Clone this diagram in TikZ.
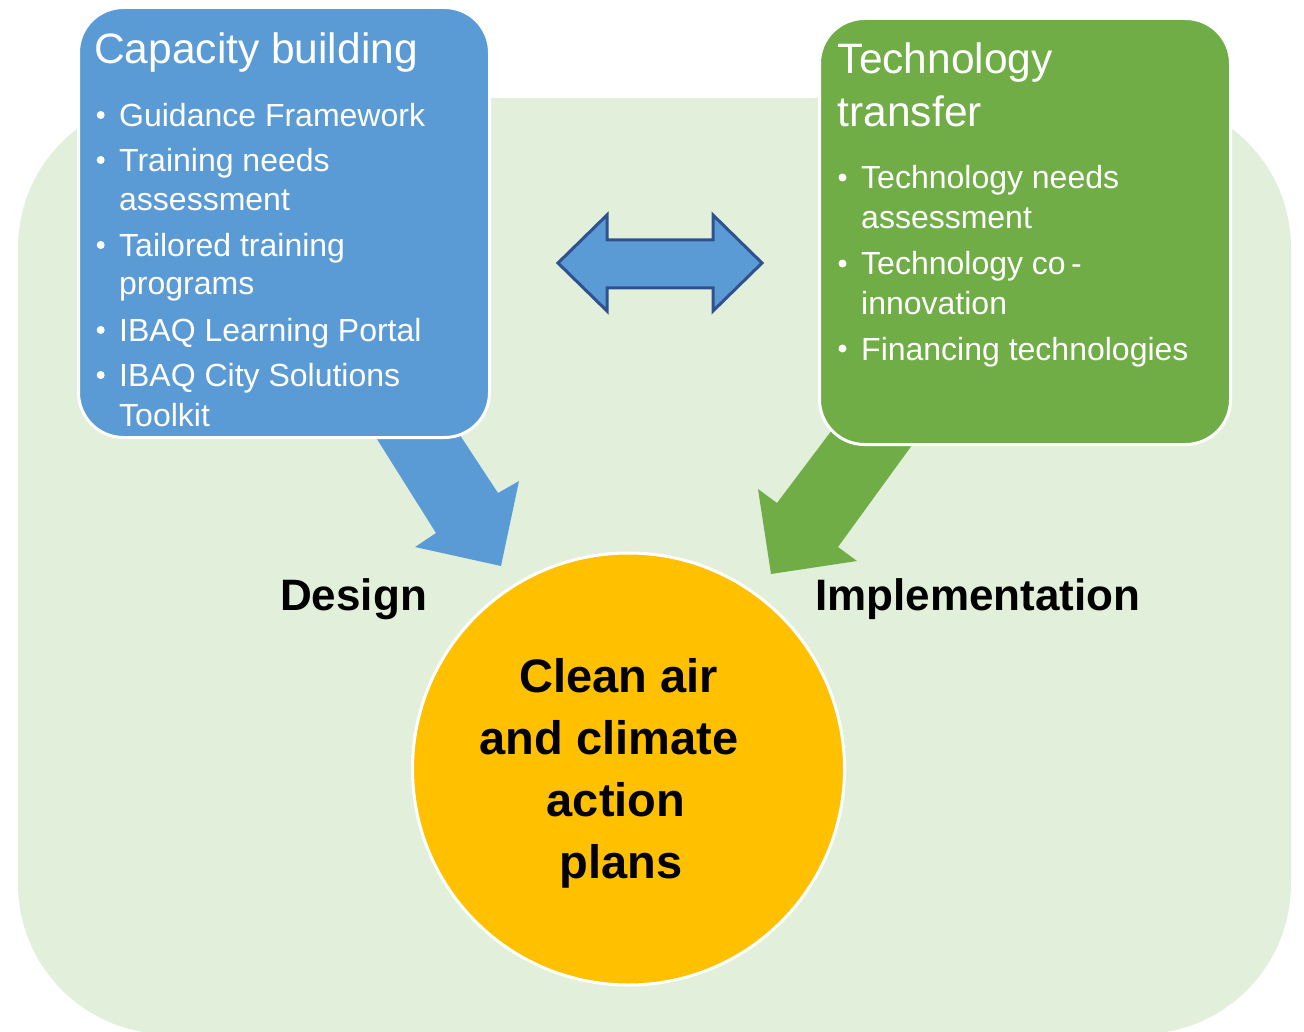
\documentclass[tikz,border=0pt]{standalone}
\usepackage{fontspec}
\setmainfont{Liberation Sans}
\definecolor{bggreen}{HTML}{E2EFDA}
\definecolor{cbblue}{HTML}{5B9BD5}
\definecolor{ttgreen}{HTML}{70AD47}
\definecolor{planorange}{HTML}{FFC000}
\definecolor{arrowedge}{HTML}{2F528F}
\begin{document}
\begin{tikzpicture}[x=1pt,y=-1pt,
  box/.style={draw=white, line width=3pt, rounded corners=45pt, anchor=north west, inner sep=0pt},
  titletext/.style={anchor=base west, inner sep=0pt, text=white, font=\fontsize{42.5}{53}\selectfont},
  itemtext/.style={anchor=base west, inner sep=0pt, text=white, font=\fontsize{32}{38}\selectfont},
  bulletdot/.style={fill=white},
  labeltext/.style={anchor=base west, inner sep=0pt, font=\fontsize{44}{52}\selectfont\bfseries},
  plantext/.style={anchor=base, inner sep=0pt, font=\fontsize{47}{56}\selectfont\bfseries}]
\useasboundingbox (0,0) rectangle (1304,1032);
% background
\fill[bggreen, rounded corners=150pt] (18,98) rectangle (1291,1034);
% block arrows
\fill[cbblue] (365,420) -- (436,533) -- (415,547) -- (501,566) -- (519,481) -- (498,493) -- (450,420) -- cycle;
\fill[ttgreen] (832,430) -- (777,503) -- (758,489) -- (771,574) -- (857,561) -- (838,547) -- (923,430) -- cycle;
% double arrow
\filldraw[fill=cbblue, draw=arrowedge, line width=3pt, line join=miter]
  (558,263) -- (607,215) -- (607,240) -- (713,240) -- (713,215) -- (762,263)
  -- (713,311) -- (713,288) -- (607,288) -- (607,311) -- cycle;
% boxes
\node (cbbox) [box, fill=cbblue, minimum width=411pt, minimum height=430pt] at (77,6) {};
\node (ttbox) [box, fill=ttgreen, minimum width=411pt, minimum height=426pt] at (818,17) {};
% capacity building text
\node (cbtitle) [titletext] at (94,63.5) {Capacity building};
\foreach \y in {126.5,171.5,256.5,341.5,386.5} \fill[bulletdot] (100.7,\y-11.5) circle (4);
\node (cb1) [itemtext] at (119,126.5) {Guidance Framework};
\node (cb2) [itemtext] at (119,171.5) {Training needs};
\node (cb2b) [itemtext] at (119,211) {assessment};
\node (cb3) [itemtext] at (119,256.5) {Tailored training};
\node (cb3b) [itemtext] at (119,295) {programs};
\node (cb4) [itemtext] at (119,341.5) {IBAQ Learning Portal};
\node (cb5) [itemtext] at (119,386.5) {IBAQ City Solutions};
\node (cb5b) [itemtext] at (119,426.5) {Toolkit};
% technology transfer text
\node (tttitle) [titletext] at (837.5,74) {Technology};
\node (tttitleb) [titletext] at (837.5,127) {transfer};
\foreach \y in {189,275,360} \fill[bulletdot] (842.5,\y-11.5) circle (4);
\node (tt1) [itemtext] at (861,189) {Technology needs};
\node (tt1b) [itemtext] at (861,229) {assessment};
\node (tt2) [itemtext] at (861,275) {Technology co\,-};
\node (tt2b) [itemtext] at (861,315) {innovation};
\node (tt3) [itemtext] at (861,360) {Financing technologies};
% labels
\node (design) [labeltext] at (280,610) {Design};
\node (impl) [labeltext] at (815,610) {Implementation};
% central circle
\node (plan) [circle, fill=planorange, draw=white, line width=3pt, minimum size=432pt, inner sep=0pt] at (628.5,769) {};
\node (p1) [plantext] at (618.5,692.5) {Clean air};
\node (p2) [plantext] at (609,754) {and climate};
\node (p3) [plantext] at (616,816.5) {action};
\node (p4) [plantext] at (621,878) {plans};
\end{tikzpicture}
\end{document}
